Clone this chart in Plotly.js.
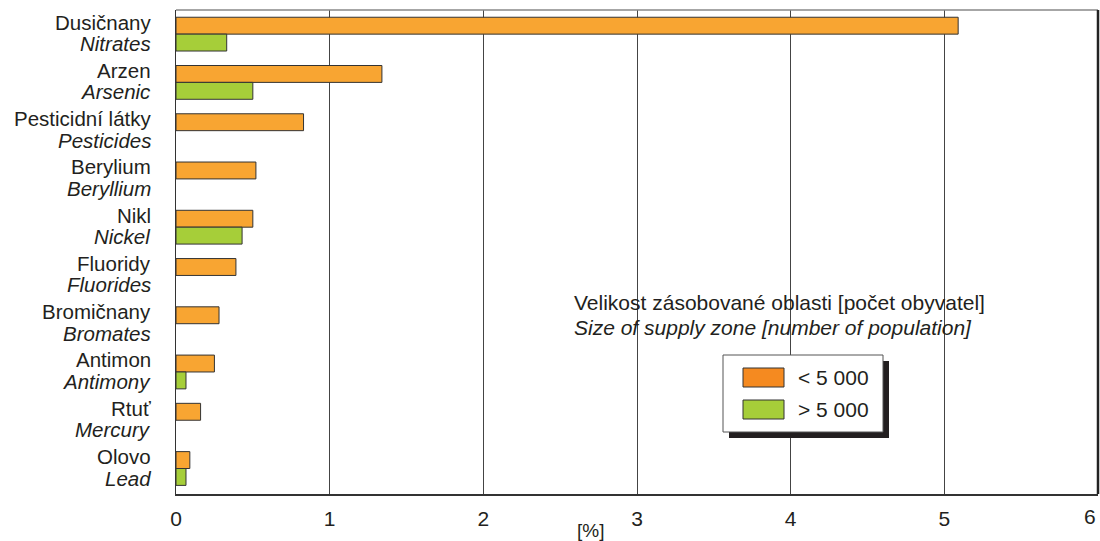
<!DOCTYPE html>
<html>
<head>
<meta charset="utf-8">
<script src="https://cdn.plot.ly/plotly-3.0.1.min.js"></script>
<style>html,body{margin:0;padding:0;background:#fff;}#chart{width:1100px;height:541px;}</style>
</head>
<body>
<div id="chart"></div>
<script>
const categoriesCz = ["Dusičnany","Arzen","Pesticidní látky","Berylium","Nikl","Fluoridy","Bromičnany","Antimon","Rtuť","Olovo"];
const categoriesEn = ["Nitrates","Arsenic","Pesticides","Beryllium","Nickel","Fluorides","Bromates","Antimony","Mercury","Lead"];
const below5000 = [5.09, 1.34, 0.83, 0.52, 0.50, 0.39, 0.28, 0.25, 0.16, 0.09];
const above5000 = [0.33, 0.50, null, null, 0.43, null, null, 0.065, null, 0.065];
const xTicks = [0,1,2,3,4,5,6];
const legendTitleCz = "Velikost zásobované oblasti [počet obyvatel]";
const legendTitleEn = "Size of supply zone [number of population]";
const legendLabels = ["< 5 000", "> 5 000"];
const xAxisTitle = "[%]";

const L=176, R=1098, T=10, B=494, W=1100, H=541;
const px = x => (x-L)/(R-L);
const py = y => (B-y)/(B-T);

const FONT = "Liberation Sans, Arial, sans-serif";
const TXT = "#231f20";
const orangeBar = "#F8A532", greenBar = "#A6CE39", orangeLeg = "#F58A20";

const traces = [
  {type:"bar", orientation:"h", y:categoriesCz, x:below5000, name:legendLabels[0],
   marker:{color:orangeBar, line:{color:"#333", width:1}}, hoverinfo:"x"},
  {type:"bar", orientation:"h", y:categoriesCz, x:above5000, name:legendLabels[1],
   marker:{color:greenBar, line:{color:"#333", width:1}}, hoverinfo:"x"}
];

const shapes = [
  {type:"rect", xref:"paper", yref:"paper", x0:px(729), x1:px(889), y0:py(438), y1:py(361), fillcolor:"#231f20", line:{width:0}, layer:"above"},
  {type:"rect", xref:"paper", yref:"paper", x0:px(723), x1:px(883), y0:py(432), y1:py(355), fillcolor:"#fff", line:{color:"#555", width:1}, layer:"above"},
  {type:"rect", xref:"paper", yref:"paper", x0:px(743), x1:px(784), y0:py(387), y1:py(368), fillcolor:orangeLeg, line:{color:"#333", width:1}, layer:"above"},
  {type:"rect", xref:"paper", yref:"paper", x0:px(743), x1:px(784), y0:py(419), y1:py(400), fillcolor:greenBar, line:{color:"#333", width:1}, layer:"above"},
  {type:"line", xref:"paper", yref:"paper", x0:0, x1:1, y0:1, y1:1, line:{color:"#888", width:1.5}, layer:"above"},
  {type:"line", xref:"paper", yref:"paper", x0:1, x1:1, y0:0, y1:1, line:{color:"#222", width:2.5}, layer:"above"}
];

const annotations = [
  {xref:"paper", yref:"paper", x:px(572), y:py(303), xanchor:"left", yanchor:"middle", showarrow:false,
   text:legendTitleCz, font:{family:FONT, size:21, color:TXT}},
  {xref:"paper", yref:"paper", x:px(572), y:py(327), xanchor:"left", yanchor:"middle", showarrow:false,
   text:"<i>"+legendTitleEn+"</i>", font:{family:FONT, size:21, color:TXT}},
  {xref:"paper", yref:"paper", x:px(796), y:py(377), xanchor:"left", yanchor:"middle", showarrow:false,
   text:legendLabels[0], font:{family:FONT, size:21, color:TXT}},
  {xref:"paper", yref:"paper", x:px(796), y:py(409), xanchor:"left", yanchor:"middle", showarrow:false,
   text:legendLabels[1], font:{family:FONT, size:21, color:TXT}},
  {xref:"paper", yref:"paper", x:px(590), y:py(530), xanchor:"center", yanchor:"middle", showarrow:false,
   text:xAxisTitle, font:{family:FONT, size:19, color:TXT}},
  {xref:"paper", yref:"paper", x:1, y:py(516), xanchor:"right", yanchor:"middle", showarrow:false,
   text:String(xTicks[xTicks.length-1]), font:{family:FONT, size:21, color:TXT}}
];

categoriesCz.forEach((c,i)=>{
  annotations.push({xref:"paper", yref:"y", x:px(153), y:c, xanchor:"right", yanchor:"middle", yshift:12,
    showarrow:false, text:c, font:{family:FONT, size:20.5, color:TXT}});
  annotations.push({xref:"paper", yref:"y", x:px(153), y:c, xanchor:"right", yanchor:"middle", yshift:-9.5,
    showarrow:false, text:"<i>"+categoriesEn[i]+"</i>", font:{family:FONT, size:20.5, color:TXT}});
});

const layout = {
  width:W, height:H,
  margin:{l:L, r:W-R, t:T, b:H-B, pad:0},
  paper_bgcolor:"#fff", plot_bgcolor:"#fff",
  showlegend:false,
  barmode:"group", bargap:0.3, bargroupgap:0,
  font:{family:FONT, color:TXT},
  xaxis:{range:[0,6], tickvals:xTicks.slice(0,-1), ticktext:xTicks.slice(0,-1).map(String), showgrid:true, gridcolor:"#444", gridwidth:1,
         zeroline:false, showline:true, linecolor:"#333", linewidth:1.5, ticks:"", ticklabelstandoff:5,
         tickfont:{family:FONT, size:21, color:TXT}, fixedrange:true},
  yaxis:{autorange:"reversed", type:"category", categoryorder:"array", categoryarray:categoriesCz,
         showgrid:false, zeroline:false, showline:true, linecolor:"#333", linewidth:1.5,
         showticklabels:false, ticks:"", fixedrange:true},
  shapes:shapes, annotations:annotations
};

Plotly.newPlot("chart", traces, layout, {displayModeBar:false, staticPlot:true});
</script>
</body>
</html>
